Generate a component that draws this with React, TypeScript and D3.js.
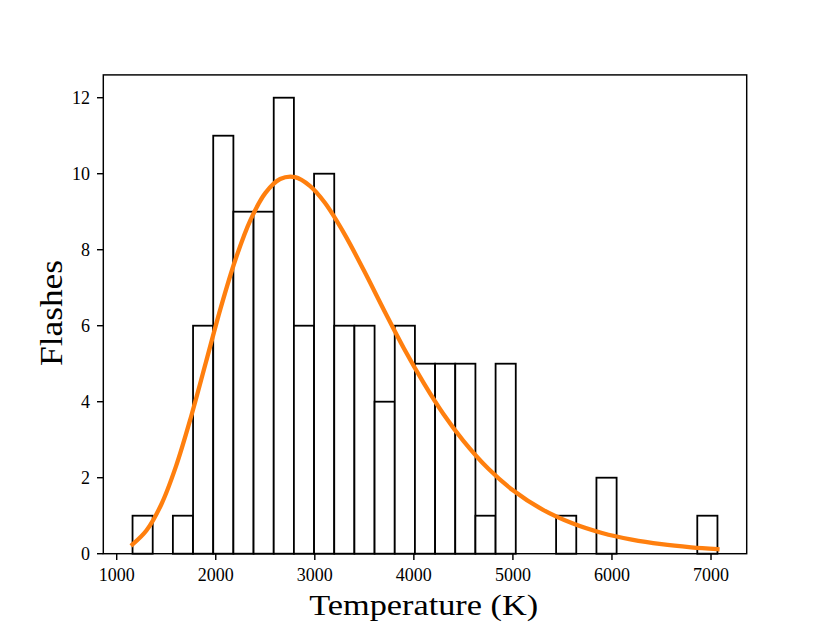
import React from "react";
import * as d3 from "d3";

// Histogram data
const binMin = 1160;
const binMax = 7065;
const counts = [1, 0, 1, 6, 11, 9, 9, 12, 6, 10, 6, 6, 4, 6, 5, 5, 5, 1, 5, 0, 0, 1, 0, 2, 0, 0, 0, 0, 1];

// Fitted curve
const fitX = [1160, 1300, 1450, 1600, 1750, 1900, 2050, 2200, 2350, 2500, 2650, 2800, 2950, 3100, 3300, 3500, 3700, 3900, 4100, 4300, 4500, 4750, 5000, 5300, 5600, 5900, 6200, 6500, 6800, 7065];
const fitY = [0.244, 0.609, 1.295, 2.311, 3.598, 5.03, 6.47, 7.75, 8.78, 9.49, 9.86, 9.91, 9.68, 9.24, 8.41, 7.43, 6.4, 5.4, 4.49, 3.67, 2.97, 2.24, 1.67, 1.16, 0.8, 0.545, 0.37, 0.249, 0.168, 0.118];

const xTicks = [1000, 2000, 3000, 4000, 5000, 6000, 7000];
const yTicks = [0, 2, 4, 6, 8, 10, 12];

const W = 830;
const H = 623;
const left = 103.3;
const right = 746.7;
const top = 74.9;
const bottom = 553.7;

export default function App() {
  const span = binMax - binMin;
  const x = d3.scaleLinear().domain([binMin - 0.05 * span, binMax + 0.05 * span]).range([left, right]);
  const y = d3.scaleLinear().domain([0, 12.6]).range([bottom, top]);
  const bw = span / counts.length;
  const line = d3
    .line<number>()
    .x((_, i) => x(fitX[i]))
    .y((d) => y(d))
    .curve(d3.curveCatmullRom.alpha(0.5));
  const font = "'Liberation Serif', 'Times New Roman', serif";

  return (
    <div style={{ position: "fixed", left: 0, top: 0, width: W, height: H, background: "#fff" }}>
      <svg width={W} height={H} viewBox={`0 0 ${W} ${H}`} style={{ display: "block" }}>
        <rect x={0} y={0} width={W} height={H} fill="#fff" />
        {counts.map((c, i) => {
          const x0 = x(binMin + i * bw);
          const x1 = x(binMin + (i + 1) * bw);
          return (
            <rect
              key={i}
              x={x0}
              y={y(c)}
              width={x1 - x0}
              height={y(0) - y(c)}
              fill="#fff"
              stroke="#000"
              strokeWidth={1.8}
            />
          );
        })}
        <path d={line(fitY) || ""} fill="none" stroke="#ff7f0e" strokeWidth={4.3} strokeLinecap="square" />
        <rect x={left} y={top} width={right - left} height={bottom - top} fill="none" stroke="#000" strokeWidth={1.45} />
        {xTicks.map((t) => (
          <g key={t}>
            <line x1={x(t)} x2={x(t)} y1={bottom} y2={bottom + 6.3} stroke="#000" strokeWidth={1.45} />
            <text x={x(t)} y={580.5} textAnchor="middle" fontFamily={font} fontSize={18} fill="#000">
              {t}
            </text>
          </g>
        ))}
        {yTicks.map((t) => (
          <g key={t}>
            <line x1={left - 6.3} x2={left} y1={y(t)} y2={y(t)} stroke="#000" strokeWidth={1.45} />
            <text x={90} y={y(t) + 6} textAnchor="end" fontFamily={font} fontSize={18} fill="#000">
              {t}
            </text>
          </g>
        ))}
        <text
          x={423.7}
          y={614.5}
          textAnchor="middle"
          fontFamily={font}
          fontSize={30}
          textLength={229}
          lengthAdjust="spacingAndGlyphs"
          fill="#000"
        >
          Temperature (K)
        </text>
        <text
          transform={`translate(61.7, 313) rotate(-90)`}
          textAnchor="middle"
          fontFamily={font}
          fontSize={32}
          textLength={106}
          lengthAdjust="spacingAndGlyphs"
          fill="#000"
        >
          Flashes
        </text>
      </svg>
    </div>
  );
}
